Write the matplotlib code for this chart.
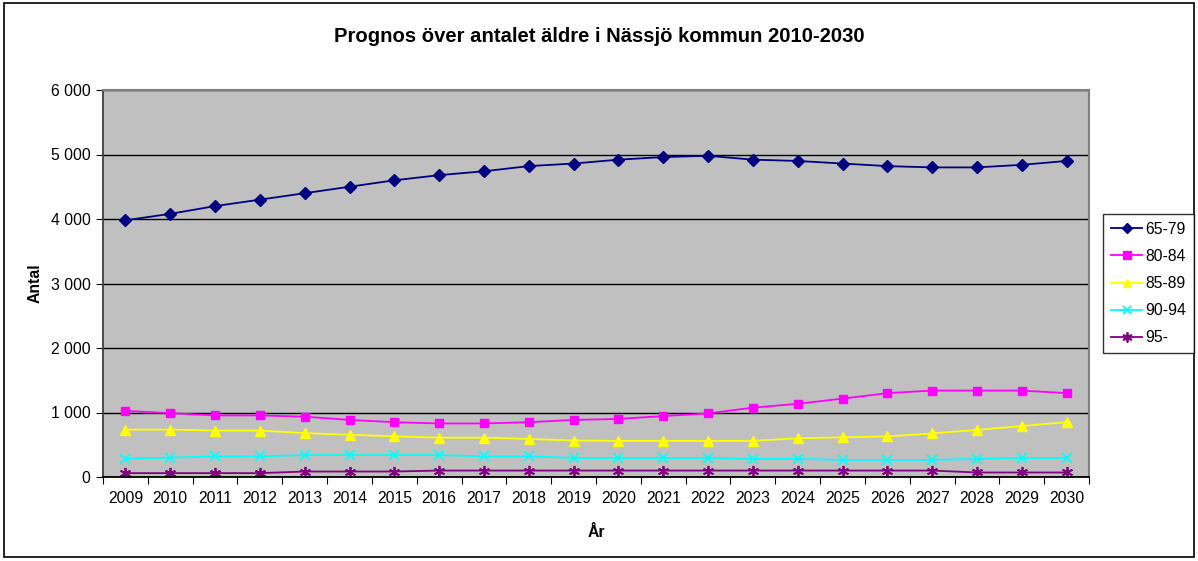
import matplotlib.pyplot as plt
from matplotlib.ticker import FuncFormatter
from matplotlib.patches import Rectangle

plt.rcParams['font.family'] = ['Liberation Sans', 'DejaVu Sans']

# data
years = list(range(2009, 2031))
age_65_79 = [3980, 4080, 4200, 4300, 4400, 4500, 4600, 4680, 4740, 4820, 4860,
             4920, 4960, 4980, 4920, 4900, 4860, 4820, 4800, 4800, 4840, 4900]
age_80_84 = [1025, 990, 955, 955, 935, 885, 850, 830, 830, 850, 885,
             900, 945, 985, 1075, 1135, 1215, 1300, 1340, 1340, 1340, 1300]
age_85_89 = [735, 735, 720, 720, 680, 655, 630, 610, 610, 590, 565,
             560, 560, 560, 560, 600, 615, 630, 675, 730, 790, 850]
age_90_94 = [285, 300, 320, 320, 340, 340, 340, 340, 320, 320, 295,
             295, 295, 295, 280, 280, 265, 265, 265, 280, 295, 295]
age_95 = [60, 60, 60, 60, 85, 85, 85, 100, 100, 100, 100,
          100, 100, 100, 100, 100, 100, 100, 100, 70, 70, 70]

series = [
    ('65-79', age_65_79, '#000080', 'D', 6),
    ('80-84', age_80_84, '#FF00FF', 's', 6),
    ('85-89', age_85_89, '#FFFF00', '^', 7),
    ('90-94', age_90_94, '#00FFFF', 'x', 7),
    ('95-', age_95, '#800080', (6, 2, 0), 8),
]

fig = plt.figure(figsize=(11.98, 5.61), dpi=100)
# outer chart border
fig.patches.append(Rectangle((0.003, 0.007), 0.994, 0.988, transform=fig.transFigure,
                             fill=False, edgecolor='black', linewidth=1.2))

ax = fig.add_axes([103 / 1198, 1 - 477 / 561, (1089 - 103) / 1198, (477 - 90) / 561])
ax.set_facecolor('#C0C0C0')

x = list(range(len(years)))
for name, vals, col, mk, ms in series:
    ax.plot(x, vals, color=col, marker=mk, markersize=ms, linewidth=1.3,
            markeredgecolor=col, markeredgewidth=1.3 if mk in ('x', (6, 2, 0)) else 1,
            label=name)

ax.set_xlim(-0.5, len(years) - 0.5)
ax.set_ylim(0, 6000)
ax.set_yticks(range(0, 6001, 1000))
ax.yaxis.set_major_formatter(FuncFormatter(lambda v, p: f'{int(v):,}'.replace(',', ' ')))
ax.grid(axis='y', color='black', linewidth=1)
ax.set_axisbelow(True)

# ticks between categories, labels centred on them
ax.set_xticks([i - 0.5 for i in range(len(years) + 1)])
ax.set_xticklabels([])
ax.set_xticks(x, minor=True)
ax.set_xticklabels([str(y) for y in years], minor=True, fontsize=11.3)
ax.tick_params(axis='x', which='minor', length=0, pad=10)
ax.tick_params(axis='x', which='major', length=5, direction='out', color='black')
ax.tick_params(axis='y', length=5, direction='out', labelsize=11.3, pad=4)

for s in ['top', 'right']:
    ax.spines[s].set_color('#808080')
    ax.spines[s].set_linewidth(1.5)
ax.spines['left'].set_color('#404040')
ax.spines['bottom'].set_color('black')
ax.spines['left'].set_linewidth(1.3)
ax.spines['bottom'].set_linewidth(1.3)

ax.set_xlabel('År', fontsize=11.3, fontweight='bold', labelpad=14)
ax.set_ylabel('Antal', fontsize=11.3, fontweight='bold', labelpad=6)

fig.text(0.5, 1 - 36 / 561, 'Prognos över antalet äldre i Nässjö kommun 2010-2030',
         ha='center', va='center', fontsize=14.6, fontweight='bold')

leg = fig.legend(loc='upper left', bbox_to_anchor=(1103 / 1198, 1 - 214 / 561),
                 borderaxespad=0, fontsize=11.3, frameon=True, fancybox=False,
                 edgecolor='black', borderpad=0.5, labelspacing=0.77,
                 handlelength=2.0, handletextpad=0.2, markerscale=0.9)
leg.get_frame().set_linewidth(1)

fig.savefig('out.png', dpi=100)
